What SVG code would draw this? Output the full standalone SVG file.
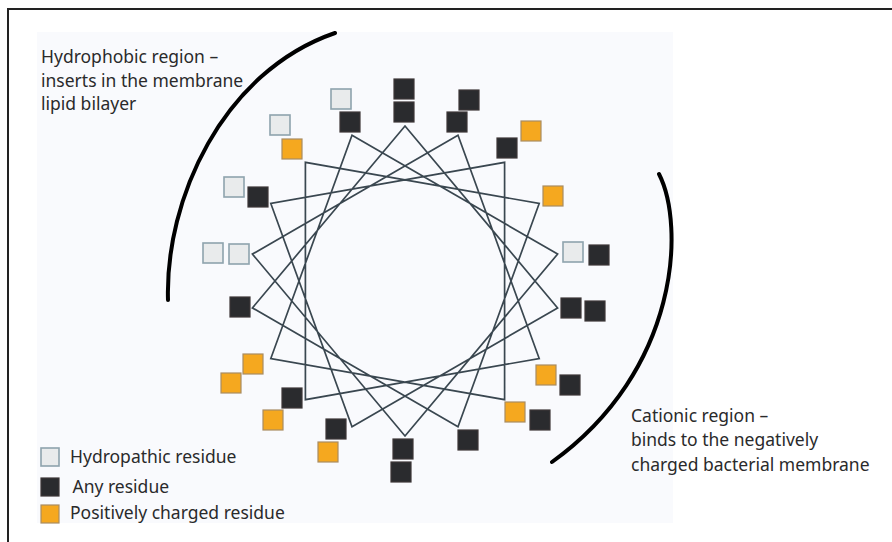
<svg xmlns="http://www.w3.org/2000/svg" width="892" height="542" viewBox="0 0 892 542">
<style>
text{font-family:"Noto Sans","Open Sans","Liberation Sans",sans-serif;font-size:17.5px;fill:#2a2a2b}
.blk{fill:#2a2b2e;stroke:#3d3637;stroke-width:1.2}
.org{fill:#f5a81f;stroke:#a88c62;stroke-width:1.2}
.lgt{fill:#e9ebec;stroke:#8ea3ad;stroke-width:1.6}
.arc{fill:none;stroke:#000;stroke-width:4;stroke-linecap:round}
.star{fill:none;stroke:#3a4750;stroke-width:1.7;stroke-linejoin:miter}
</style>
<rect x="0" y="0" width="892" height="542" fill="#fff"/>
<path d="M892,9 H8 V542" fill="none" stroke="#222" stroke-width="2"/>
<rect x="37" y="32" width="636" height="491" fill="#f9fafd"/>
<g id="connectors">
<polygon class="star" points="405,126 557.6,307.9 352,426.7 270.8,203.5 504.6,162.3 504.6,399.7 270.8,358.5 352,135.3 557.6,254.1 405,436 252.4,254.1 458,135.3 539.2,358.5 305.4,399.7 305.4,162.3 539.2,203.5 458,426.7 252.4,307.9"/>
</g>
<g id="arcs">
<path class="arc" d="M335,33 C222,72 165,200 168,300"/>
<path class="arc" d="M659,174 C685,225 680,370 552,462"/>
</g>
<g id="v90"><rect class="blk" x="394" y="79" width="20" height="20"/><rect class="blk" x="394" y="102" width="20" height="20"/></g>
<g id="v110"><rect class="lgt" x="331" y="89" width="20" height="20"/><rect class="blk" x="340" y="112" width="20" height="20"/></g>
<g id="v130"><rect class="lgt" x="270" y="115" width="20" height="20"/><rect class="org" x="282" y="139" width="20" height="20"/></g>
<g id="v150"><rect class="lgt" x="224" y="177" width="20" height="20"/><rect class="blk" x="248" y="187" width="20" height="20"/></g>
<g id="v170"><rect class="lgt" x="203" y="243" width="20" height="20"/><rect class="lgt" x="229" y="244" width="20" height="20"/></g>
<g id="v190"><rect class="blk" x="230" y="297" width="20" height="20"/></g>
<g id="v210"><rect class="org" x="243" y="354" width="20" height="20"/><rect class="org" x="221" y="373" width="20" height="20"/></g>
<g id="v230"><rect class="blk" x="282" y="388" width="20" height="20"/><rect class="org" x="263" y="410" width="20" height="20"/></g>
<g id="v250"><rect class="blk" x="326" y="419" width="20" height="20"/><rect class="org" x="318" y="442" width="20" height="20"/></g>
<g id="v270"><rect class="blk" x="393" y="439" width="20" height="20"/><rect class="blk" x="391" y="462" width="20" height="20"/></g>
<g id="v290"><rect class="blk" x="458" y="430" width="20" height="20"/></g>
<g id="v310"><rect class="org" x="505" y="402" width="20" height="20"/><rect class="blk" x="530" y="410" width="20" height="20"/></g>
<g id="v330"><rect class="org" x="536" y="365" width="20" height="20"/><rect class="blk" x="560" y="375" width="20" height="20"/></g>
<g id="v350"><rect class="blk" x="561" y="298" width="20" height="20"/><rect class="blk" x="585" y="301" width="20" height="20"/></g>
<g id="v10"><rect class="lgt" x="563" y="242" width="20" height="20"/><rect class="blk" x="589" y="245" width="20" height="20"/></g>
<g id="v30"><rect class="org" x="543" y="186" width="20" height="20"/></g>
<g id="v50"><rect class="blk" x="497" y="138" width="20" height="20"/><rect class="org" x="521" y="121" width="20" height="20"/></g>
<g id="v70"><rect class="blk" x="447" y="112" width="20" height="20"/><rect class="blk" x="459" y="90" width="20" height="20"/></g>
<g id="label-hydrophobic">
<text x="41" y="63">Hydrophobic region –</text>
<text x="41" y="86.5">inserts in the membrane</text>
<text x="41" y="110">lipid bilayer</text>
</g>
<g id="label-cationic">
<text x="631" y="421.5">Cationic region –</text>
<text x="631" y="446">binds to the negatively</text>
<text x="631" y="470.5">charged bacterial membrane</text>
</g>
<g id="legend">
<rect class="lgt" x="41" y="448" width="18" height="18"/>
<text x="70" y="463.3">Hydropathic residue</text>
<rect class="blk" x="41" y="478" width="18" height="18"/>
<text x="72.5" y="493.3">Any residue</text>
<rect class="org" x="41" y="505" width="18" height="18"/>
<text x="70" y="519.3">Positively charged residue</text>
</g>
</svg>
